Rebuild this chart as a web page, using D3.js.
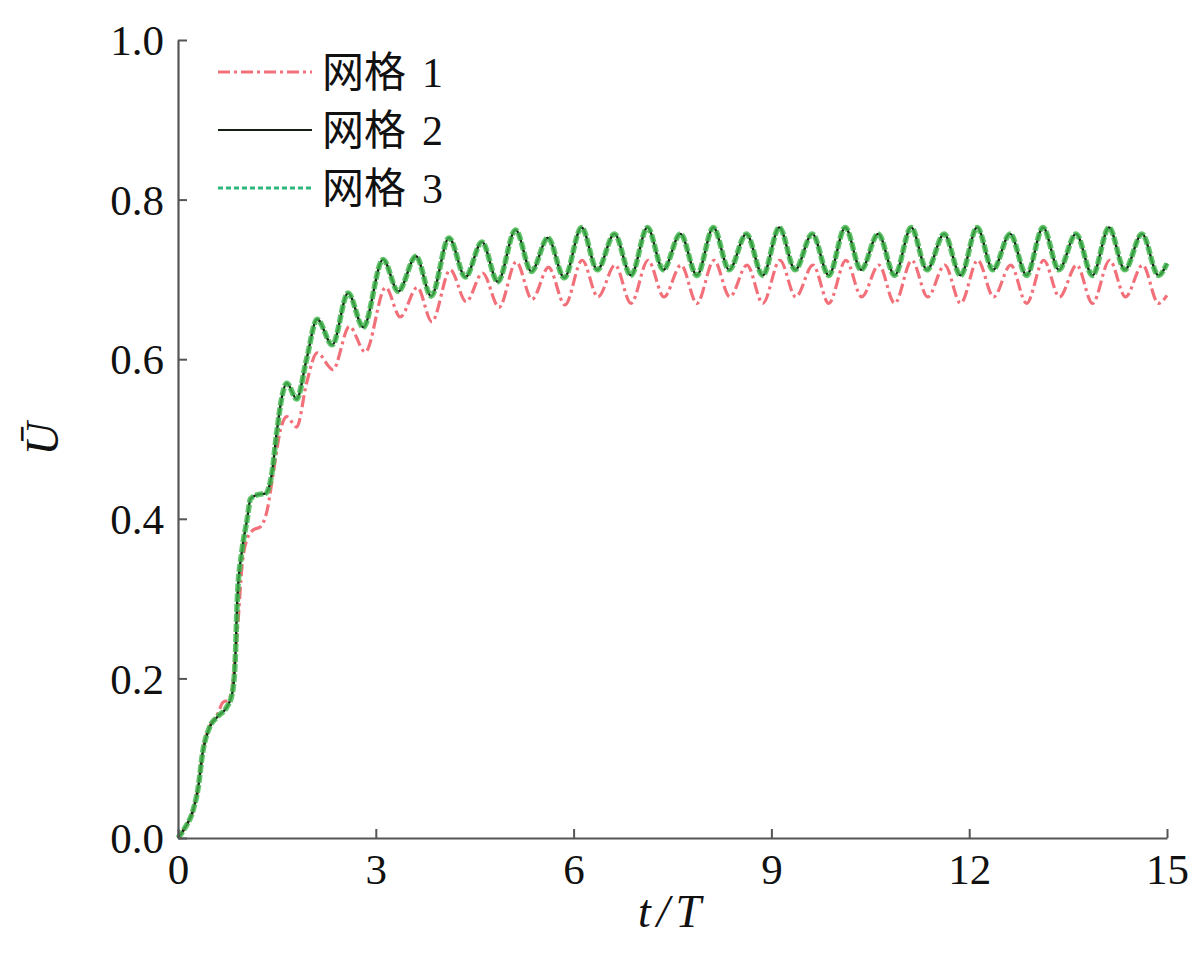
<!DOCTYPE html>
<html>
<head>
<meta charset="utf-8">
<script src="https://cdn.jsdelivr.net/npm/d3@7/dist/d3.min.js"></script>
<style>
html,body{margin:0;padding:0;background:#fff;}
svg{display:block;}
</style>
</head>
<body>
<svg id="chart" width="1200" height="953"></svg>
<script>
// ---------- data ----------
const seriesLabels = ["网格", "网格", "网格"];
const seriesNumbers = ["1", "2", "3"];
const xTicks = [0, 3, 6, 9, 12, 15];
const yTicks = [0, 0.2, 0.4, 0.6, 0.8, 1.0];

const tGrid1 = [0, 0.1, 0.23, 0.3, 0.38, 0.48, 0.6, 0.68, 0.76, 0.82, 0.87, 0.91, 0.97, 1.05, 1.14, 1.25, 1.35, 1.45, 1.55, 1.65, 1.8, 1.95, 2.11, 2.35, 2.6, 2.84, 3.15, 3.37, 3.63, 3.85, 4.13, 4.37, 4.62, 4.87, 5.13, 5.37, 5.62, 5.87,
  6.13, 6.37, 6.63, 6.87, 7.13, 7.37, 7.63, 7.87, 8.13, 8.37, 8.63, 8.87, 9.13, 9.37, 9.63, 9.87, 10.13, 10.37, 10.63, 10.87,
  11.13, 11.37, 11.63, 11.87, 12.13, 12.37, 12.63, 12.87, 13.13, 13.37, 13.63, 13.87, 14.13, 14.37, 14.63, 14.87, 15];
const uGrid1 = [0, 0.012, 0.035, 0.06, 0.11, 0.14, 0.155, 0.17, 0.173, 0.185, 0.23, 0.27, 0.34, 0.375, 0.386, 0.39, 0.41, 0.46, 0.51, 0.528, 0.515, 0.57, 0.608, 0.587, 0.641, 0.609, 0.69, 0.653, 0.69, 0.647, 0.712, 0.672, 0.708, 0.665, 0.722, 0.675, 0.715, 0.668,
  0.724, 0.678, 0.718, 0.670, 0.724, 0.678, 0.718, 0.670, 0.724, 0.678, 0.718, 0.670, 0.724, 0.678, 0.718, 0.670, 0.724, 0.678, 0.718, 0.670,
  0.724, 0.678, 0.718, 0.670, 0.724, 0.678, 0.718, 0.670, 0.724, 0.678, 0.718, 0.670, 0.724, 0.678, 0.718, 0.670, 0.68];

const tGrid2 = [0, 0.1, 0.23, 0.3, 0.38, 0.48, 0.6, 0.74, 0.82, 0.87, 0.9, 0.97, 1.05, 1.1, 1.2, 1.33, 1.42, 1.5, 1.57, 1.65, 1.8, 1.95, 2.11, 2.34, 2.58, 2.81, 3.11, 3.34, 3.61, 3.84, 4.11, 4.36, 4.61, 4.85, 5.12, 5.36, 5.61, 5.86,
  6.12, 6.36, 6.62, 6.87, 7.12, 7.36, 7.62, 7.87, 8.12, 8.36, 8.62, 8.87, 9.12, 9.36, 9.62, 9.87, 10.12, 10.36, 10.62, 10.87,
  11.12, 11.36, 11.62, 11.87, 12.12, 12.36, 12.62, 12.87, 13.12, 13.36, 13.62, 13.87, 14.12, 14.36, 14.62, 14.87, 15];
const uGrid2 = [0, 0.012, 0.035, 0.06, 0.11, 0.139, 0.152, 0.164, 0.18, 0.227, 0.3, 0.36, 0.4, 0.425, 0.43, 0.432, 0.455, 0.51, 0.55, 0.57, 0.55, 0.6, 0.65, 0.618, 0.683, 0.64, 0.725, 0.685, 0.729, 0.679, 0.752, 0.703, 0.747, 0.697, 0.762, 0.71, 0.752, 0.702,
  0.765, 0.712, 0.757, 0.705, 0.765, 0.712, 0.757, 0.705, 0.765, 0.712, 0.757, 0.705, 0.765, 0.712, 0.757, 0.705, 0.765, 0.712, 0.757, 0.705,
  0.765, 0.712, 0.757, 0.705, 0.765, 0.712, 0.757, 0.705, 0.765, 0.712, 0.757, 0.705, 0.765, 0.712, 0.757, 0.705, 0.72];

const tGrid3 = [0, 0.1, 0.23, 0.3, 0.38, 0.48, 0.6, 0.74, 0.82, 0.87, 0.9, 0.97, 1.05, 1.1, 1.2, 1.33, 1.42, 1.5, 1.57, 1.65, 1.8, 1.95, 2.11, 2.34, 2.58, 2.81, 3.11, 3.34, 3.61, 3.84, 4.11, 4.36, 4.61, 4.85, 5.12, 5.36, 5.61, 5.86,
  6.12, 6.36, 6.62, 6.87, 7.12, 7.36, 7.62, 7.87, 8.12, 8.36, 8.62, 8.87, 9.12, 9.36, 9.62, 9.87, 10.12, 10.36, 10.62, 10.87,
  11.12, 11.36, 11.62, 11.87, 12.12, 12.36, 12.62, 12.87, 13.12, 13.36, 13.62, 13.87, 14.12, 14.36, 14.62, 14.87, 15];
const uGrid3 = [0, 0.012, 0.035, 0.06, 0.11, 0.139, 0.152, 0.164, 0.18, 0.227, 0.3, 0.36, 0.4, 0.425, 0.43, 0.432, 0.455, 0.51, 0.55, 0.57, 0.55, 0.6, 0.65, 0.618, 0.683, 0.64, 0.725, 0.685, 0.729, 0.679, 0.752, 0.703, 0.747, 0.697, 0.762, 0.71, 0.752, 0.702,
  0.765, 0.712, 0.757, 0.705, 0.765, 0.712, 0.757, 0.705, 0.765, 0.712, 0.757, 0.705, 0.765, 0.712, 0.757, 0.705, 0.765, 0.712, 0.757, 0.705,
  0.765, 0.712, 0.757, 0.705, 0.765, 0.712, 0.757, 0.705, 0.765, 0.712, 0.757, 0.705, 0.765, 0.712, 0.757, 0.705, 0.72];

// ---------- layout ----------
const svg = d3.select("#chart");
const x = d3.scaleLinear().domain([0, 15]).range([178, 1167]);
const y = d3.scaleLinear().domain([0, 1]).range([838, 40]);
const serif = "'Liberation Serif','Times New Roman',serif";
const axisColor = "#555";

const line = d3.line().x(d => x(d[0])).y(d => y(d[1])).curve(d3.curveMonotoneX);
const zip = (ts, us) => ts.map((t, i) => [t, us[i]]);

const styles = [
  {data: zip(tGrid1, uGrid1), color: "#f2707a", width: 3.2, dash: "12,4,3,4", opacity: 1},
  {data: zip(tGrid2, uGrid2), color: "#142014", width: 2.4, dash: null, opacity: 1},
  {data: zip(tGrid3, uGrid3), color: "#3fb84c", width: 5.5, dash: "8,2", opacity: 0.82}
];

const plot = svg.append("g");
styles.forEach(s => {
  plot.append("path")
    .datum(s.data)
    .attr("d", line)
    .attr("fill", "none")
    .attr("stroke", s.color)
    .attr("stroke-width", s.width)
    .attr("stroke-opacity", s.opacity)
    .attr("stroke-linejoin", "round")
    .attr("stroke-dasharray", s.dash);
});

// axes
const xAxis = d3.axisBottom(x).tickValues(xTicks).tickSizeInner(-9).tickSizeOuter(0).tickPadding(12).tickFormat(d3.format("d"));
const yAxis = d3.axisLeft(y).tickValues(yTicks).tickSizeInner(-9).tickSizeOuter(0).tickPadding(14).tickFormat(d3.format(".1f"));

const gx = svg.append("g").attr("transform", `translate(0,${y(0)})`).call(xAxis);
const gy = svg.append("g").attr("transform", `translate(${x(0)},0)`).call(yAxis);
[gx, gy].forEach(g => {
  g.select(".domain").attr("stroke", axisColor).attr("stroke-width", 2.2);
  g.selectAll(".tick line").attr("stroke", axisColor).attr("stroke-width", 2);
  g.selectAll(".tick text").attr("fill", "#111").attr("font-family", serif).attr("font-size", 43);
});
gx.selectAll(".tick text").attr("dy", "0.78em");
gy.selectAll(".tick text").attr("dy", "0.34em");

// axis titles
svg.append("text")
  .attr("x", x(7.5)).attr("y", 927)
  .attr("text-anchor", "middle")
  .attr("font-family", serif).attr("font-size", 46).attr("font-style", "italic")
  .attr("letter-spacing", 6)
  .attr("fill", "#111")
  .text("t/T");

svg.append("text")
  .attr("transform", `translate(58,${y(0.5)}) rotate(-90)`)
  .attr("text-anchor", "middle")
  .attr("font-family", serif).attr("font-size", 46).attr("font-style", "italic")
  .attr("fill", "#111")
  .text("Ū");

// legend
const legendY = [72, 130, 188];
const legend = svg.append("g");
styles.forEach((s, i) => {
  legend.append("line")
    .attr("x1", 218).attr("x2", 312)
    .attr("y1", legendY[i]).attr("y2", legendY[i])
    .attr("stroke", i === 2 ? "#2fb67a" : s.color)
    .attr("stroke-width", i === 1 ? 2.2 : 3)
    .attr("stroke-dasharray", i === 0 ? "12,4,3,4" : (i === 2 ? "5,3" : null));
  const t = legend.append("text")
    .attr("x", 322).attr("y", legendY[i])
    .attr("dy", "0.36em")
    .attr("font-size", 42)
    .attr("fill", "#111");
  t.append("tspan").attr("font-family", "'Noto Sans CJK SC', sans-serif").text(seriesLabels[i]);
  t.append("tspan").attr("dx", 16).attr("font-family", serif).text(seriesNumbers[i]);
});
</script>
</body>
</html>
